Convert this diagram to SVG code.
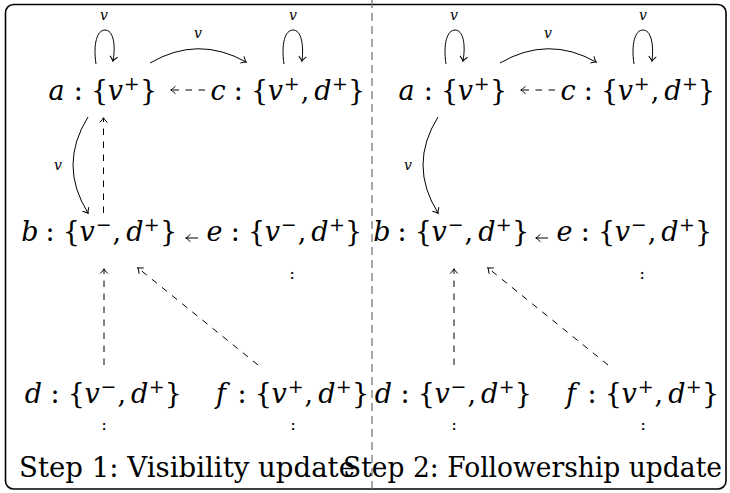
<svg xmlns="http://www.w3.org/2000/svg" width="730" height="493" viewBox="0 0 730 493">
<style>
.t{font-family:'DejaVu Serif','Liberation Serif','Noto Serif',serif}
.m{font-size:27px;text-anchor:middle}
.i{font-style:italic}
.s{font-size:19px}
.lab{font-size:14px;font-style:italic;text-anchor:middle}
.dots{font-size:17px;text-anchor:middle}
.ttl{font-size:27px}
.ln{fill:none;stroke:#000;stroke-width:1}
.dash{stroke-dasharray:6.5 6.5}
</style>
<defs>
<marker id="ah" viewBox="-6 -5 8 10" refX="0" refY="0" markerWidth="8" markerHeight="10" markerUnits="userSpaceOnUse" orient="auto">
<path d="M-4.5,-3.8 Q-1.6,-0.8 0.3,0 Q-1.6,0.8 -4.5,3.8" fill="none" stroke="#000" stroke-width="1" stroke-dasharray="none"/>
</marker>
</defs>
<rect x="5.5" y="4.5" width="720.5" height="484.5" rx="8" fill="#fff" stroke="#000" stroke-width="1.6"/>
<line x1="372" y1="0" x2="372" y2="493" stroke="#6e6e6e" stroke-width="1.2" stroke-dasharray="8 5"/>

<!-- LEFT PICTURE -->
<g id="left" class="t">
<g id="L-a" transform="translate(48,100)"><text class="m"><tspan class="i" x="8.5" y="0">a</tspan><tspan x="30.2" y="0">:</tspan><tspan x="51.6" y="0">{</tspan><tspan class="i" x="67.4" y="0">v</tspan><tspan class="s" x="83.8" y="-10">+</tspan><tspan x="100.5" y="0">}</tspan></text></g>
<g id="L-c" transform="translate(211,100)"><text class="m"><tspan class="i" x="7" y="0">c</tspan><tspan x="27.2" y="0">:</tspan><tspan x="48.6" y="0">{</tspan><tspan class="i" x="64.4" y="0">v</tspan><tspan class="s" x="80.8" y="-10">+</tspan><tspan x="94" y="0">,</tspan><tspan class="i" x="112" y="0">d</tspan><tspan class="s" x="129" y="-10">+</tspan><tspan x="145.7" y="0">}</tspan></text></g>
<g id="L-b" transform="translate(23,241)"><text class="m"><tspan class="i" x="6.9" y="0">b</tspan><tspan x="27" y="0">:</tspan><tspan x="48.4" y="0">{</tspan><tspan class="i" x="64.2" y="0">v</tspan><tspan class="s" x="80.6" y="-10">−</tspan><tspan x="93.8" y="0">,</tspan><tspan class="i" x="111.8" y="0">d</tspan><tspan class="s" x="128.8" y="-10">+</tspan><tspan x="145.5" y="0">}</tspan></text></g>
<g id="L-e" transform="translate(207,241)"><text class="m"><tspan class="i" x="7.5" y="0">e</tspan><tspan x="28.2" y="0">:</tspan><tspan x="49.6" y="0">{</tspan><tspan class="i" x="65.4" y="0">v</tspan><tspan class="s" x="81.8" y="-10">−</tspan><tspan x="95" y="0">,</tspan><tspan class="i" x="113" y="0">d</tspan><tspan class="s" x="130" y="-10">+</tspan><tspan x="146.7" y="0">}</tspan></text><text class="dots" x="85" y="38">:</text></g>
<g id="L-d" transform="translate(25,403)"><text class="m"><tspan class="i" x="8.3" y="0">d</tspan><tspan x="30" y="0">:</tspan><tspan x="51.3" y="0">{</tspan><tspan class="i" x="67.1" y="0">v</tspan><tspan class="s" x="83.5" y="-10">−</tspan><tspan x="96.7" y="0">,</tspan><tspan class="i" x="114.7" y="0">d</tspan><tspan class="s" x="131.7" y="-10">+</tspan><tspan x="148.4" y="0">}</tspan></text><text class="dots" x="79" y="27">:</text></g>
<g id="L-f" transform="translate(213,403)"><text class="m"><tspan class="i" x="7.9" y="0">f</tspan><tspan x="29" y="0">:</tspan><tspan x="50.4" y="0">{</tspan><tspan class="i" x="66.2" y="0">v</tspan><tspan class="s" x="82.6" y="-10">+</tspan><tspan x="95.8" y="0">,</tspan><tspan class="i" x="113.8" y="0">d</tspan><tspan class="s" x="130.8" y="-10">+</tspan><tspan x="147.5" y="0">}</tspan></text><text class="dots" x="80" y="27">:</text></g>
<g id="L-edges">
<path class="ln" d="M96,64 C93,44 97,30 105,30 C113,30 116,44 113,61" marker-end="url(#ah)"/>
<text class="lab" x="104" y="20">v</text>
<path class="ln" d="M284,64 C281,44 285,30 293,30 C301,30 304,44 302,61" marker-end="url(#ah)"/>
<text class="lab" x="293" y="20">v</text>
<path class="ln" d="M150,63 Q198,35 246,62" marker-end="url(#ah)"/>
<text class="lab" x="198" y="38">v</text>
<path class="ln dash" d="M205,90 L171,90" marker-end="url(#ah)"/>
<path class="ln" d="M88,117 Q58,165 88,213" marker-end="url(#ah)"/>
<text class="lab" x="58" y="170">v</text>
<path class="ln dash" d="M103.5,213 L103.5,118" marker-end="url(#ah)"/>
<path class="ln" d="M198,238 L186,238" marker-end="url(#ah)"/>
<path class="ln dash" d="M104,365 L104,269" marker-end="url(#ah)"/>
<path class="ln dash" d="M258,365 L138,268" marker-end="url(#ah)"/>
</g>
<text class="ttl" x="19" y="477" textLength="336" lengthAdjust="spacingAndGlyphs">Step 1: Visibility update</text>
</g>

<!-- RIGHT PICTURE -->
<g id="right" transform="translate(350,0)" class="t">
<g id="R-a" transform="translate(48,100)"><text class="m"><tspan class="i" x="8.5" y="0">a</tspan><tspan x="30.2" y="0">:</tspan><tspan x="51.6" y="0">{</tspan><tspan class="i" x="67.4" y="0">v</tspan><tspan class="s" x="83.8" y="-10">+</tspan><tspan x="100.5" y="0">}</tspan></text></g>
<g id="R-c" transform="translate(211,100)"><text class="m"><tspan class="i" x="7" y="0">c</tspan><tspan x="27.2" y="0">:</tspan><tspan x="48.6" y="0">{</tspan><tspan class="i" x="64.4" y="0">v</tspan><tspan class="s" x="80.8" y="-10">+</tspan><tspan x="94" y="0">,</tspan><tspan class="i" x="112" y="0">d</tspan><tspan class="s" x="129" y="-10">+</tspan><tspan x="145.7" y="0">}</tspan></text></g>
<g id="R-b" transform="translate(25,241)"><text class="m"><tspan class="i" x="6.9" y="0">b</tspan><tspan x="27" y="0">:</tspan><tspan x="48.4" y="0">{</tspan><tspan class="i" x="64.2" y="0">v</tspan><tspan class="s" x="80.6" y="-10">−</tspan><tspan x="93.8" y="0">,</tspan><tspan class="i" x="111.8" y="0">d</tspan><tspan class="s" x="128.8" y="-10">+</tspan><tspan x="145.5" y="0">}</tspan></text></g>
<g id="R-e" transform="translate(207,241)"><text class="m"><tspan class="i" x="7.5" y="0">e</tspan><tspan x="28.2" y="0">:</tspan><tspan x="49.6" y="0">{</tspan><tspan class="i" x="65.4" y="0">v</tspan><tspan class="s" x="81.8" y="-10">−</tspan><tspan x="95" y="0">,</tspan><tspan class="i" x="113" y="0">d</tspan><tspan class="s" x="130" y="-10">+</tspan><tspan x="146.7" y="0">}</tspan></text><text class="dots" x="85" y="38">:</text></g>
<g id="R-d" transform="translate(25,403)"><text class="m"><tspan class="i" x="8.3" y="0">d</tspan><tspan x="30" y="0">:</tspan><tspan x="51.3" y="0">{</tspan><tspan class="i" x="67.1" y="0">v</tspan><tspan class="s" x="83.5" y="-10">−</tspan><tspan x="96.7" y="0">,</tspan><tspan class="i" x="114.7" y="0">d</tspan><tspan class="s" x="131.7" y="-10">+</tspan><tspan x="148.4" y="0">}</tspan></text><text class="dots" x="79" y="27">:</text></g>
<g id="R-f" transform="translate(213,403)"><text class="m"><tspan class="i" x="7.9" y="0">f</tspan><tspan x="29" y="0">:</tspan><tspan x="50.4" y="0">{</tspan><tspan class="i" x="66.2" y="0">v</tspan><tspan class="s" x="82.6" y="-10">+</tspan><tspan x="95.8" y="0">,</tspan><tspan class="i" x="113.8" y="0">d</tspan><tspan class="s" x="130.8" y="-10">+</tspan><tspan x="147.5" y="0">}</tspan></text><text class="dots" x="80" y="27">:</text></g>
<g id="R-edges">
<path class="ln" d="M96,64 C93,44 97,30 105,30 C113,30 116,44 113,61" marker-end="url(#ah)"/>
<text class="lab" x="104" y="20">v</text>
<path class="ln" d="M284,64 C281,44 285,30 293,30 C301,30 304,44 302,61" marker-end="url(#ah)"/>
<text class="lab" x="293" y="20">v</text>
<path class="ln" d="M150,63 Q198,35 246,62" marker-end="url(#ah)"/>
<text class="lab" x="198" y="38">v</text>
<path class="ln dash" d="M205,90 L171,90" marker-end="url(#ah)"/>
<path class="ln" d="M88,117 Q58,165 88,213" marker-end="url(#ah)"/>
<text class="lab" x="58" y="170">v</text>
<path class="ln" d="M198,238 L186,238" marker-end="url(#ah)"/>
<path class="ln dash" d="M104,365 L104,269" marker-end="url(#ah)"/>
<path class="ln dash" d="M258,365 L138,268" marker-end="url(#ah)"/>
</g>
<text class="ttl" x="-7" y="477" textLength="379" lengthAdjust="spacingAndGlyphs">Step 2: Followership update</text>
</g>
</svg>
